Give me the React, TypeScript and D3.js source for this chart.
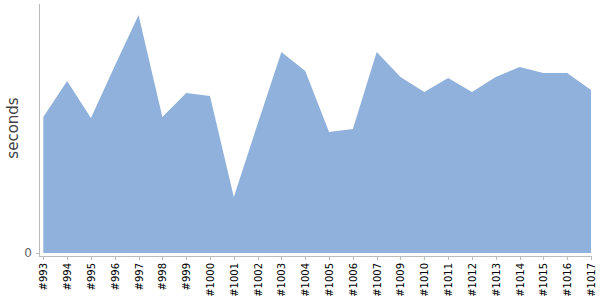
import React from "react";
import * as d3 from "d3";

const builds = ["#993","#994","#995","#996","#997","#998","#999","#1000","#1001","#1002","#1003","#1004","#1005","#1006","#1007","#1009","#1010","#1011","#1012","#1013","#1014","#1015","#1016","#1017"];
const seconds = [136,172,135,187,238,136,160,157,56,129,201,182,121,124,201,176,161,175,161,176,186,180,180,163];
const yTicks = [0];

export default function App() {
  const W = 600, H = 300;
  const x = d3.scalePoint<string>().domain(builds).range([43.3, 591]);
  const y = d3.scaleLinear().domain([0, 249]).range([253, 4]);
  const area = d3.area<number>()
    .x((_, i) => x(builds[i]) as number)
    .y0(y(0))
    .y1((d) => y(d));
  return (
    <svg width={W} height={H} style={{ position: "absolute", left: 0, top: 0 }}>
      <rect width={W} height={H} fill="#fff" />
      <path d={area(seconds) || ""} fill="#8fb1db" />
      <line x1={39.5} x2={39.5} y1={4} y2={257} stroke="#bbb" strokeWidth={1} />
      {yTicks.map((t) => (
        <g key={t}>
          <line x1={36} x2={39.5} y1={y(t) + 0.5} y2={y(t) + 0.5} stroke="#bbb" />
          <text x={32} y={y(t)} dy="0.35em" textAnchor="end" fontFamily="DejaVu Sans" fontSize={12} fill="#666">{t}</text>
        </g>
      ))}
      <line x1={40} x2={592} y1={256.5} y2={256.5} stroke="#bbb" strokeWidth={1} />
      {builds.map((b) => {
        const px = Math.round(x(b) as number) + 0.5;
        return (
          <g key={b}>
            <line x1={px} x2={px} y1={256.5} y2={260} stroke="#bbb" />
            <text transform={`translate(${px + 3.5},${263}) rotate(-90)`} textAnchor="end" fontFamily="DejaVu Sans" fontSize={10} fill="#000">{b}</text>
          </g>
        );
      })}
      <text transform="translate(18,128) rotate(-90)" textAnchor="middle" fontFamily="DejaVu Sans" fontSize={15} fill="#444">seconds</text>
    </svg>
  );
}
